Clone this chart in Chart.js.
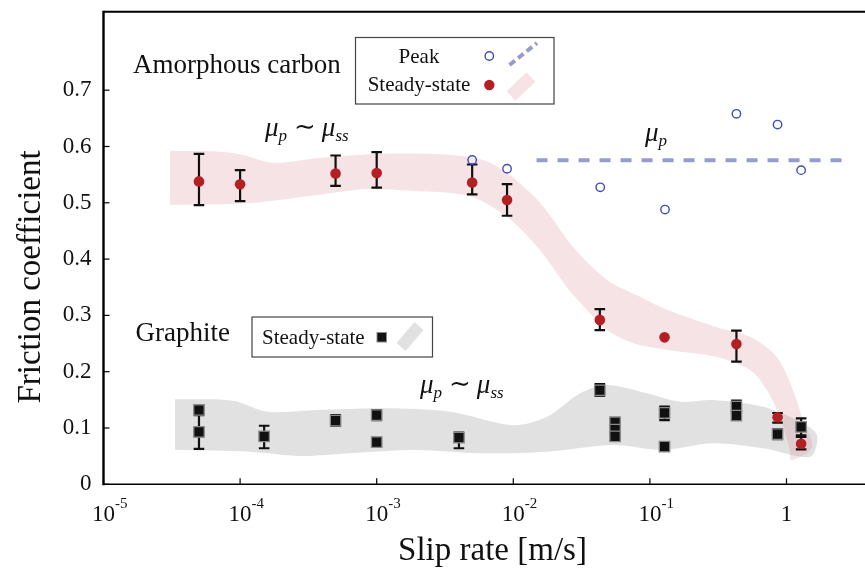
<!DOCTYPE html>
<html><head><meta charset="utf-8">
<script src="https://cdn.jsdelivr.net/npm/chart.js@4"></script>
<style>html,body{margin:0;padding:0;background:#fff}#wrap{width:865px;height:571px}</style>
</head><body><div id="wrap"><canvas id="c" width="865" height="571"></canvas></div>
<script>
// ---------- data ----------
const xTickValues = [1e-5, 1e-4, 1e-3, 1e-2, 1e-1, 1];
const xTickBase = ['10', '10', '10', '10', '10', '1'];
const xTickExp = ['-5', '-4', '-3', '-2', '-1', ''];
const yTickValues = [0, 0.1, 0.2, 0.3, 0.4, 0.5, 0.6, 0.7];
const yTickLabels = ['0', '0.1', '0.2', '0.3', '0.4', '0.5', '0.6', '0.7'];

// Amorphous carbon, steady-state
const acX  = [5e-5, 1e-4, 5e-4, 1e-3, 5e-3, 9e-3, 0.043, 0.128, 0.43, 0.86, 1.28];
const acY  = [0.538, 0.533, 0.552, 0.553, 0.536, 0.505, 0.292, 0.261, 0.249, 0.119, 0.072];
const acLo = [0.496, 0.503, 0.530, 0.527, 0.515, 0.477, 0.274, null, 0.218, 0.1095, 0.062];
const acHi = [0.587, 0.558, 0.584, 0.590, 0.568, 0.533, 0.311, null, 0.273, 0.1266, 0.084];

// Amorphous carbon, peak
const pkX = [5e-3, 9e-3, 0.0433, 0.129, 0.43, 0.86, 1.28];
const pkY = [0.576, 0.5605, 0.5275, 0.488, 0.658, 0.639, 0.558];
const muPX = [0.0148, 2.6];
const muPY = [0.5755, 0.5755];

// Graphite, steady-state
const gX  = [5e-5, 5e-5, 1.5e-4, 5e-4, 1e-3, 1e-3, 4e-3, 0.043, 0.0556, 0.0556, 0.0556, 0.128, 0.128, 0.43, 0.43, 0.86, 1.28];
const gY  = [0.132, 0.093, 0.085, 0.113, 0.123, 0.075, 0.083, 0.167, 0.110, 0.097, 0.085, 0.127, 0.067, 0.138, 0.122, 0.089, 0.102];
const gLo = [null, 0.063, 0.064, 0.104, 0.114, null, 0.064, 0.157, 0.077, null, null, 0.114, null, 0.128, null, 0.080, 0.087];
const gHi = [null, 0.123, 0.104, 0.123, 0.132, null, 0.092, 0.178, 0.118, null, null, 0.138, null, 0.1485, null, 0.098, 0.117];

// Trend bands (outline: upper edge left->right, lower edge right->left)
const pinkUpX = [3.07e-5, 6.78e-5, 1.05e-4, 1.74e-4, 3.66e-4, 1.11e-3, 3.44e-3, 6.0e-3, 9.0e-3, 0.0157, 0.0274, 0.0485, 0.0847, 0.133, 0.310, 0.541, 0.851, 1.116, 1.32, 1.54];
const pinkUpY = [0.592, 0.591, 0.585, 0.571, 0.579, 0.587, 0.585, 0.576, 0.553, 0.500, 0.4215, 0.363, 0.333, 0.310, 0.279, 0.262, 0.226, 0.1675, 0.114, 0.066];
const pinkLoX = [1.08, 1.06, 0.895, 0.719, 0.541, 0.310, 0.133, 0.0751, 0.0485, 0.0364, 0.0247, 0.0157, 9.0e-3, 5.07e-3, 2.90e-3, 1.97e-3, 8.49e-4, 3.66e-4, 1.18e-4, 3.07e-5];
const pinkLoY = [0.043, 0.061, 0.1195, 0.1675, 0.203, 0.226, 0.239, 0.251, 0.274, 0.304, 0.350, 0.416, 0.475, 0.510, 0.519, 0.521, 0.5245, 0.514, 0.4996, 0.496];
const grayUpX = [3.34e-5, 8.87e-5, 1.57e-4, 3.66e-4, 1.11e-3, 3.44e-3, 9.95e-3, 0.0177, 0.0308, 0.0485, 0.0953, 0.166, 0.290, 0.673, 1.19, 1.67];
const grayUpY = [0.151, 0.1485, 0.129, 0.132, 0.135, 0.129, 0.105, 0.120, 0.1616, 0.1764, 0.1616, 0.1467, 0.1497, 0.1378, 0.1142, 0.0876];
const grayLoX = [1.49, 0.673, 0.290, 0.125, 0.0537, 0.0177, 5.70e-3, 1.97e-3, 6.38e-4, 2.74e-4, 1.18e-4, 3.34e-5];
const grayLoY = [0.049, 0.0639, 0.0728, 0.0609, 0.0698, 0.0579, 0.0551, 0.0609, 0.0551, 0.0503, 0.0579, 0.0609];

// ---------- helpers ----------
const pts = (xs, ys) => xs.map((x, i) => ({x: x, y: ys[i]}));
const shape = (ux, uy, lx, ly) => pts(ux, uy).concat(pts(lx, ly));
const SERIF = '"Liberation Serif", "DejaVu Serif", serif';
const PINK = 'rgba(214,140,150,0.24)';
const GRAY = 'rgba(120,120,120,0.22)';
const RED = '#b41f24';
const BLUE = '#3e4fb0';
const DASH = '#979bcf';
const PINK_INDEX = 1;

function drawMu(ctx, x, y) {
  // μ_p ~ μ_ss
  let cx = x;
  ctx.textAlign = 'left';
  ctx.textBaseline = 'alphabetic';
  ctx.font = 'italic 27px ' + SERIF; ctx.fillText('μ', cx, y); cx += ctx.measureText('μ').width;
  ctx.font = 'italic 17px ' + SERIF; ctx.fillText('p', cx, y + 5); cx += ctx.measureText('p').width + 7;
  ctx.font = '26px "DejaVu Serif", serif'; ctx.fillText('∼', cx, y - 1); cx += ctx.measureText('∼').width + 6;
  ctx.font = 'italic 27px ' + SERIF; ctx.fillText('μ', cx, y); cx += ctx.measureText('μ').width;
  ctx.font = 'italic 17px ' + SERIF; ctx.fillText('ss', cx, y + 5);
}

const decor = {
  id: 'decor',
  afterDatasetDraw(chart, args) {
    if (args.index !== PINK_INDEX) return;
    const ctx = chart.ctx, xs = chart.scales.x, ys = chart.scales.y;
    ctx.save();
    ctx.strokeStyle = '#111'; ctx.lineWidth = 2.2;
    const bar = (x, lo, hi) => {
      if (lo == null || hi == null) return;
      const px = xs.getPixelForValue(x), a = ys.getPixelForValue(lo), b = ys.getPixelForValue(hi);
      ctx.beginPath();
      ctx.moveTo(px, a); ctx.lineTo(px, b);
      ctx.moveTo(px - 5.3, a); ctx.lineTo(px + 5.3, a);
      ctx.moveTo(px - 5.3, b); ctx.lineTo(px + 5.3, b);
      ctx.stroke();
    };
    acX.forEach((x, i) => bar(x, acLo[i], acHi[i]));
    gX.forEach((x, i) => bar(x, gLo[i], gHi[i]));
    ctx.restore();
  },
  afterDraw(chart) {
    const ctx = chart.ctx, xs = chart.scales.x, ys = chart.scales.y, a = chart.chartArea;
    ctx.save();
    // axes frame
    ctx.strokeStyle = '#000';
    ctx.lineWidth = 2.4;
    ctx.beginPath(); ctx.moveTo(a.left, a.bottom + 1); ctx.lineTo(a.left, a.top - 1); ctx.stroke();
    ctx.lineWidth = 2;
    ctx.beginPath(); ctx.moveTo(a.left, a.top); ctx.lineTo(a.right, a.top); ctx.stroke();
    ctx.lineWidth = 1.5;
    ctx.beginPath(); ctx.moveTo(a.left, a.bottom); ctx.lineTo(a.right, a.bottom); ctx.stroke();
    // inward ticks
    ctx.lineWidth = 1.2;
    yTickValues.forEach(v => {
      const py = ys.getPixelForValue(v);
      ctx.beginPath(); ctx.moveTo(a.left, py); ctx.lineTo(a.left + 6, py); ctx.stroke();
    });
    xTickValues.forEach(v => {
      const px = xs.getPixelForValue(v);
      ctx.beginPath(); ctx.moveTo(px, a.bottom); ctx.lineTo(px, a.bottom - 6); ctx.stroke();
    });
    // x tick labels with superscripts
    ctx.fillStyle = '#111';
    ctx.textBaseline = 'alphabetic';
    xTickValues.forEach((v, i) => {
      const px = xs.getPixelForValue(v);
      ctx.font = '23px ' + SERIF;
      ctx.textAlign = 'center';
      ctx.fillText(xTickBase[i], px, 521);
      if (xTickExp[i]) {
        const w = ctx.measureText(xTickBase[i]).width;
        ctx.font = '15px ' + SERIF;
        ctx.textAlign = 'left';
        ctx.fillText(xTickExp[i], px + w / 2, 508);
      }
    });
    // axis titles
    ctx.font = '33px ' + SERIF;
    ctx.textAlign = 'center';
    ctx.fillText('Slip rate [m/s]', 492.5, 560);
    ctx.save();
    ctx.translate(40, 277);
    ctx.rotate(-Math.PI / 2);
    ctx.fillText('Friction coefficient', 0, 0);
    ctx.restore();
    // group labels
    ctx.font = '27px ' + SERIF;
    ctx.textAlign = 'left';
    ctx.fillText('Amorphous carbon', 133, 73);
    ctx.fillText('Graphite', 135.5, 341);
    // annotations
    drawMu(ctx, 265, 136);
    drawMu(ctx, 420, 393);
    ctx.font = 'italic 27px ' + SERIF; ctx.textAlign = 'left';
    ctx.fillText('μ', 645, 141);
    const mw = ctx.measureText('μ').width;
    ctx.font = 'italic 17px ' + SERIF; ctx.fillText('p', 645 + mw, 146);

    // legend 1
    ctx.fillStyle = '#fff';
    ctx.fillRect(355.5, 37.5, 198.5, 66.5);
    ctx.strokeStyle = '#444'; ctx.lineWidth = 1.2;
    ctx.strokeRect(355.5, 37.5, 198.5, 66.5);
    ctx.fillStyle = '#111';
    ctx.font = '21px ' + SERIF; ctx.textAlign = 'center';
    ctx.fillText('Peak', 419, 63);
    ctx.fillText('Steady-state', 419, 91);
    ctx.strokeStyle = BLUE; ctx.lineWidth = 1.4;
    ctx.beginPath(); ctx.arc(489.3, 56, 4.2, 0, Math.PI * 2); ctx.stroke();
    ctx.fillStyle = RED;
    ctx.beginPath(); ctx.arc(489.3, 85, 5.2, 0, Math.PI * 2); ctx.fill();
    ctx.strokeStyle = DASH; ctx.lineWidth = 4; ctx.setLineDash([7, 4]);
    ctx.beginPath(); ctx.moveTo(509.5, 65); ctx.lineTo(537, 43); ctx.stroke();
    ctx.setLineDash([]);
    ctx.strokeStyle = PINK; ctx.lineWidth = 13; ctx.lineCap = 'butt';
    ctx.beginPath(); ctx.moveTo(511, 96); ctx.lineTo(531, 77); ctx.stroke();

    // legend 2
    ctx.fillStyle = '#fff';
    ctx.fillRect(252, 317, 180.5, 40);
    ctx.strokeStyle = '#444'; ctx.lineWidth = 1.2;
    ctx.strokeRect(252, 317, 180.5, 40);
    ctx.fillStyle = '#111';
    ctx.font = '21px ' + SERIF; ctx.textAlign = 'left';
    ctx.fillText('Steady-state', 262, 344);
    ctx.fillStyle = '#111'; ctx.fillRect(377, 332.5, 9.5, 9.5);
    ctx.strokeStyle = '#8a8a8a'; ctx.lineWidth = 1; ctx.strokeRect(377, 332.5, 9.5, 9.5);
    ctx.strokeStyle = GRAY; ctx.lineWidth = 12;
    ctx.beginPath(); ctx.moveTo(401, 347); ctx.lineTo(419, 326); ctx.stroke();
    ctx.restore();
  }
};

new Chart(document.getElementById('c'), {
  type: 'line',
  data: {
    datasets: [
      { label: 'Graphite band', data: shape(grayUpX, grayUpY, grayLoX, grayLoY),
        fill: 'shape', backgroundColor: GRAY, borderWidth: 0, pointRadius: 0, tension: 0.3, order: 20 },
      { label: 'Amorphous band', data: shape(pinkUpX, pinkUpY, pinkLoX, pinkLoY),
        fill: 'shape', backgroundColor: PINK, borderWidth: 0, pointRadius: 0, tension: 0.3, order: 19 },
      { label: 'mu_p', data: pts(muPX, muPY), borderColor: DASH, borderWidth: 4, borderDash: [11, 10],
        pointRadius: 0, fill: false, order: 15 },
      { label: 'Steady-state (AC)', data: pts(acX, acY), showLine: false, pointRadius: 5.3,
        backgroundColor: RED, borderWidth: 0, order: 3 },
      { label: 'Peak', data: pts(pkX, pkY), showLine: false, pointRadius: 4.2,
        borderColor: BLUE, borderWidth: 1.4, backgroundColor: 'rgba(0,0,0,0)', order: 2 },
      { label: 'Steady-state (Graphite)', data: pts(gX, gY), showLine: false, pointStyle: 'rect',
        pointRadius: 7.4, backgroundColor: '#111', borderColor: '#8a8a8a', borderWidth: 1.3, order: 1 }
    ]
  },
  options: {
    responsive: false, animation: false, devicePixelRatio: 1,
    layout: { autoPadding: false, padding: { top: 11.7, left: 0, right: 0, bottom: 0 } },
    plugins: { legend: { display: false }, tooltip: { enabled: false } },
    scales: {
      x: {
        type: 'logarithmic', min: 1e-5, max: 3.756,
        grid: { display: false, drawTicks: false }, border: { display: false },
        ticks: { display: false },
        afterBuildTicks: s => { s.ticks = xTickValues.map(v => ({value: v})); },
        afterFit: s => { s.height = 86.7; s.paddingLeft = 0; s.paddingRight = 0; }
      },
      y: {
        type: 'linear', min: 0, max: 0.8394,
        grid: { display: false, drawTicks: false }, border: { display: false },
        ticks: { padding: 12, color: '#111', font: { family: SERIF, size: 23 },
                 callback: (v, i) => yTickLabels[i] },
        afterBuildTicks: s => { s.ticks = yTickValues.map(v => ({value: v})); },
        afterFit: s => { s.width = 103.5; s.paddingTop = 0; s.paddingBottom = 0; }
      }
    }
  },
  plugins: [decor]
});
</script></body></html>
